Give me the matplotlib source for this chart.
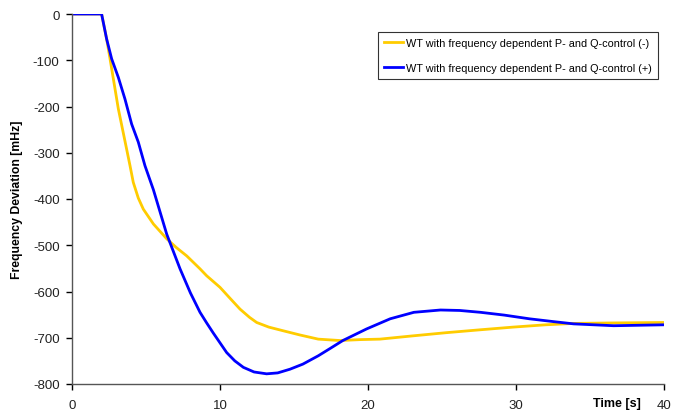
import matplotlib
matplotlib.use("Agg")
import matplotlib.pyplot as plt
from matplotlib.ticker import FixedLocator

plt.rcParams['font.family'] = ['Liberation Sans', 'DejaVu Sans']

# Series: WT with frequency dependent P- and Q-control (-)
t_minus = [0, 2.0, 2.34, 2.57, 3.13, 3.69, 3.92, 4.14, 4.48, 4.82, 5.5, 6.4, 7.05, 7.75, 8.65, 9.1, 10.0, 10.6, 11.35, 12.0, 12.48, 13.3, 14.28, 15.4, 16.64, 18.1, 19.5, 20.8, 23.0, 25.3, 27.5, 29.8, 32.0, 33.9, 36.5, 40.0]
f_minus = [0, 0, -54, -97, -205, -292, -328, -364, -398, -422, -454, -486, -505, -523, -551, -566, -591, -612, -638, -656, -667, -677, -685, -694, -703, -706, -704, -703, -696, -689, -683, -677, -672, -669, -668, -667]

# Series: WT with frequency dependent P- and Q-control (+)
t_plus = [0, 2.0, 2.34, 2.68, 3.13, 3.58, 4.03, 4.48, 4.93, 5.5, 6.4, 7.3, 8.0, 8.65, 9.1, 9.55, 10.45, 11.0, 11.58, 12.3, 13.15, 13.9, 14.73, 15.6, 16.64, 17.5, 18.3, 19.9, 21.5, 23.1, 24.9, 26.2, 27.6, 29.2, 30.9, 32.5, 33.9, 36.6, 40.0]
f_plus = [0, 0, -54, -97, -137, -184, -238, -277, -328, -380, -476, -551, -603, -645, -668, -690, -732, -750, -764, -774, -778, -776, -768, -757, -739, -722, -706, -681, -659, -645, -640, -641, -645, -651, -659, -665, -670, -674, -672]

labels = ["WT with frequency dependent P- and Q-control (-)",
          "WT with frequency dependent P- and Q-control (+)"]
colors = ["#FFCC00", "#0000FF"]

x_ticks = [0, 10, 20, 30, 40]
y_ticks = [0, -100, -200, -300, -400, -500, -600, -700, -800]

fig = plt.figure(figsize=(6.83, 4.14), dpi=100)
ax = fig.add_axes([72/683, 1-385/414, (664-72)/683, (385-15)/414])

ax.plot(t_minus, f_minus, color=colors[0], lw=2.0, label=labels[0], solid_joinstyle='round')
ax.plot(t_plus, f_plus, color=colors[1], lw=2.0, label=labels[1], solid_joinstyle='round')

ax.set_xlim(0, 40)
ax.set_ylim(-800, 0)
ax.xaxis.set_major_locator(FixedLocator(x_ticks))
ax.yaxis.set_major_locator(FixedLocator(y_ticks))
ax.set_xticklabels(["0", "10", "20", "30", "40"])
ax.set_yticklabels([str(v) for v in y_ticks])

for s in ['top', 'right']:
    ax.spines[s].set_visible(False)
for s in ['left', 'bottom']:
    ax.spines[s].set_color('#555555')
    ax.spines[s].set_linewidth(1.0)

ax.tick_params(axis='both', direction='out', length=4, width=1, color='black',
               labelsize=9.5, labelcolor='#222222', pad=5)
ax.tick_params(axis='x', pad=7)

ax.set_ylabel("Frequency Deviation [mHz]", fontsize=8.8, fontweight='bold', labelpad=7)
fig.text(617/683, 1-404/414, "Time [s]", fontsize=9, fontweight='bold', ha='center', va='center')

leg = ax.legend(loc='upper right', bbox_to_anchor=((658-72)/592, (385-33)/370),
                fontsize=7.85, frameon=True, fancybox=False, edgecolor='black',
                handlelength=1.75, handletextpad=0.3, borderpad=0.55, labelspacing=1.4,
                borderaxespad=0)
leg.get_frame().set_linewidth(0.8)

fig.savefig("out.png", dpi=100)
